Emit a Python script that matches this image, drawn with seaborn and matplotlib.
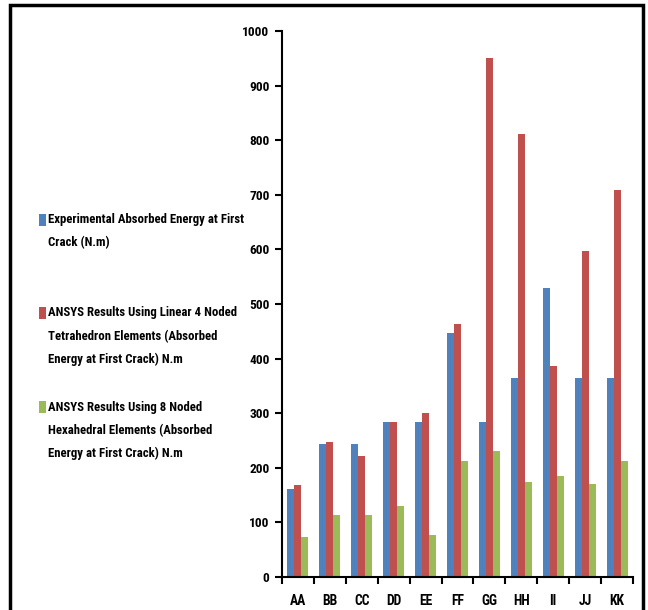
import matplotlib
matplotlib.use("Agg")
import matplotlib.pyplot as plt
from matplotlib import font_manager
from matplotlib.patches import Rectangle
import seaborn as sns
import pandas as pd

# Specimens and absorbed energy values (N.m)
specimens = ["AA", "BB", "CC", "DD", "EE", "FF", "GG", "HH", "II", "JJ", "KK"]
experimental = [162, 243, 243, 284, 284, 447, 284, 365, 529, 365, 365]
ansys_tetra4 = [169, 247, 221, 284, 300, 464, 951, 811, 387, 597, 709]
ansys_hexa8 = [73, 113, 113, 130, 77, 212, 231, 174, 185, 170, 213]

series_names = [
    "Experimental Absorbed Energy at First\nCrack (N.m)",
    "ANSYS Results Using Linear 4 Noded\nTetrahedron Elements (Absorbed\nEnergy at First Crack) N.m",
    "ANSYS Results Using 8 Noded\nHexahedral Elements (Absorbed\nEnergy at First Crack) N.m",
]
y_ticks = [0, 100, 200, 300, 400, 500, 600, 700, 800, 900, 1000]

colors = ["#4F81BD", "#C0504D", "#9BBB59"]

rows = []
for name, vals in zip(series_names, [experimental, ansys_tetra4, ansys_hexa8]):
    for s, v in zip(specimens, vals):
        rows.append({"Specimen": s, "Series": name, "Energy": v})
df = pd.DataFrame(rows)

sns.set_theme(style="white")

# pick a narrow sans face if one is installed
fonts = font_manager.fontManager.ttflist
names = {f.name for f in fonts}
family, stretch, tag = "Lato", "normal", "lato"
for cand in ["Liberation Sans Narrow", "Roboto Condensed", "Open Sans Condensed"]:
    if cand in names:
        family, tag = cand, "narrow"
        break
else:
    if any(f.name == "DejaVu Sans" and f.stretch == "condensed" for f in fonts):
        family, stretch, tag = "DejaVu Sans", "condensed", "djc"
plt.rcParams["font.family"] = [family, "DejaVu Sans"]
plt.rcParams["font.stretch"] = stretch
plt.rcParams["font.weight"] = "bold"
fs = {"narrow": 9.2, "djc": 8.0, "lato": 8.0}[tag]

W, H = 648, 610
fig = plt.figure(figsize=(W / 100, H / 100), dpi=100)
ax = fig.add_axes([282 / W, 1 - 577 / H, (633 - 282) / W, (577 - 31) / H])

sns.barplot(data=df, x="Specimen", y="Energy", hue="Series", order=specimens,
            hue_order=series_names, palette=colors, width=0.66, gap=0,
            saturation=1, legend=False, ax=ax, edgecolor="none")

ax.set_xlim(-0.5, len(specimens) - 0.5)
ax.set_ylim(0, 1000)
ax.set_yticks(y_ticks)
ax.set_xlabel("")
ax.set_ylabel("")

# category boundary ticks, labels centred under each group
ax.set_xticks([i - 0.5 for i in range(len(specimens) + 1)])
ax.set_xticklabels([])
ax.set_xticks(range(len(specimens)), minor=True)
ax.set_xticklabels(specimens, minor=True, fontsize=fs + 0.6, fontweight="bold")
ax.tick_params(axis="x", which="major", bottom=True, length=5, width=1.5,
               color="black", direction="out")
ax.tick_params(axis="x", which="minor", bottom=False, length=0, pad=12)
ax.tick_params(axis="y", left=True, length=5, width=1.5, color="black",
               direction="out", labelsize=fs + 0.4, pad=4)
for lbl in ax.get_yticklabels():
    lbl.set_fontweight("bold")
for lbl in ax.get_xticklabels(minor=True) + ax.get_yticklabels():
    lbl.set_color("black")

for side in ["top", "right"]:
    ax.spines[side].set_visible(False)
for side in ["left", "bottom"]:
    ax.spines[side].set_color("black")
    ax.spines[side].set_linewidth(1.5)
ax.grid(False)

# legend block to the left of the plot
entry_tops = [219.5, 313, 407]
line_step = 23.3
for name, col, top in zip(series_names, colors, entry_tops):
    fig.patches.append(Rectangle((38.5 / W, 1 - (top + 6) / H), 7 / W, 12 / H,
                                 transform=fig.transFigure, facecolor=col,
                                 edgecolor="none"))
    for k, line in enumerate(name.split("\n")):
        fig.text(48.5 / W, 1 - (top + k * line_step) / H, line, color="black",
                 ha="left", va="center", fontsize=fs, fontweight="bold")

# outer frame
fig.patches.append(Rectangle((10 / W, -0.05), (643 - 10) / W, 1 - 5 / H + 0.05,
                             transform=fig.transFigure, fill=False,
                             edgecolor="black", linewidth=2.5, clip_on=False))

fig.savefig("out.png", dpi=100)
